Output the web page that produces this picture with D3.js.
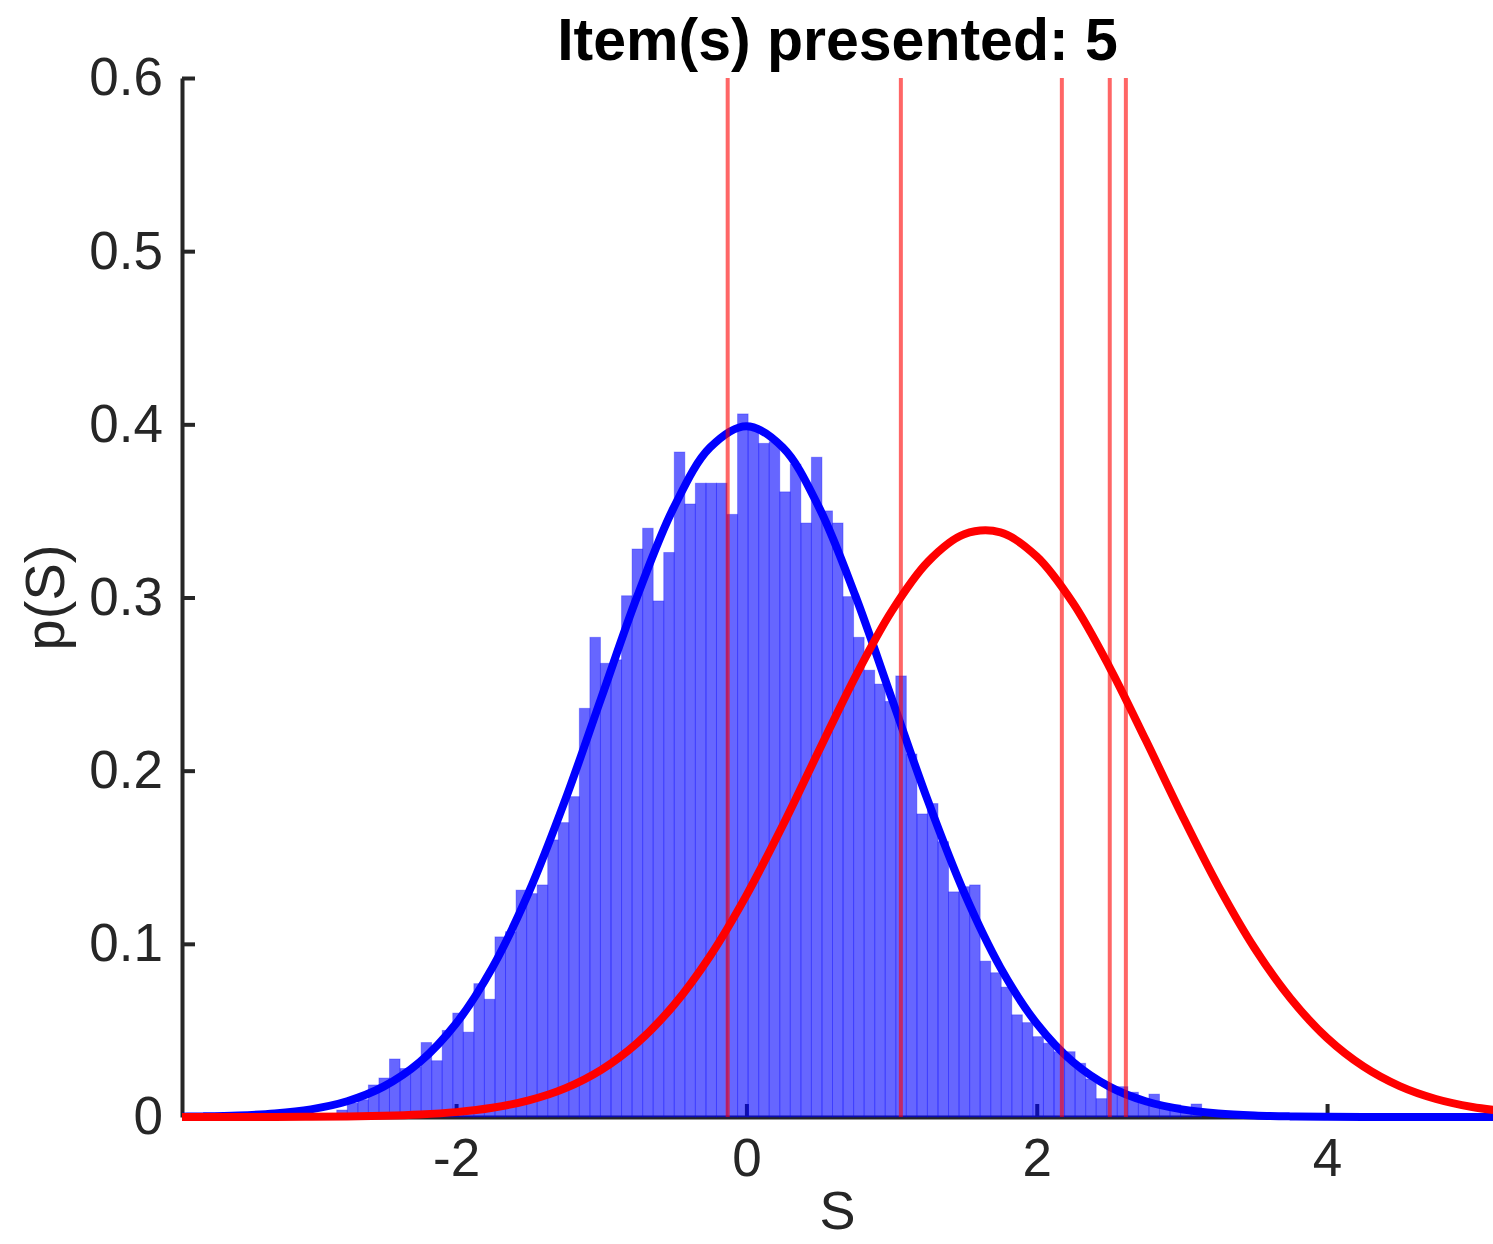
<!DOCTYPE html>
<html>
<head>
<meta charset="utf-8">
<script src="https://cdn.jsdelivr.net/npm/d3@7"></script>
<style>
  body { margin: 0; background: #fff; }
  svg { display: block; }
</style>
</head>
<body>
<div id="chart"></div>
<script>
// chart text
const titleText = "Item(s) presented: 5";
const xLabelText = "S";
const yLabelText = "p(S)";

// axis ticks
const xTicks = [-2, 0, 2, 4];
const yTicks = [0, 0.1, 0.2, 0.3, 0.4, 0.5, 0.6];
const yTickLabels = ["0", "0.1", "0.2", "0.3", "0.4", "0.5", "0.6"];
const xDomain = [-3.888, 5.143];
const yDomain = [0, 0.6];

const binStart = -2.822;
const binWidth = 0.07266;
const histHeights = [
  0.004, 0.008, 0.010, 0.0185, 0.0225, 0.0335, 0.028, 0.029, 0.043, 0.0325,
  0.050, 0.060, 0.049, 0.077, 0.068, 0.104, 0.107, 0.131, 0.129, 0.134,
  0.160, 0.170, 0.185, 0.236, 0.277, 0.262, 0.264, 0.301, 0.328, 0.340,
  0.298, 0.326, 0.384, 0.354, 0.366, 0.366, 0.366, 0.348, 0.406, 0.399,
  0.389, 0.390, 0.361, 0.377, 0.343, 0.381, 0.350, 0.343, 0.3005, 0.277,
  0.258, 0.250, 0.240, 0.2547, 0.2096, 0.175, 0.181, 0.159, 0.130, 0.133,
  0.134, 0.090, 0.0833, 0.075, 0.059, 0.0545, 0.0464, 0.0426, 0.0377, 0.0377,
  0.031, 0.022, 0.0106, 0.0173, 0.0175, 0.0143, 0.008, 0.0132, 0.007, 0.007,
  0.003, 0.0075
];

// density curves sampled along S
const sGrid = [
  -4, -3.75, -3.5, -3.25, -3, -2.75, -2.5, -2.25, -2, -1.75,
  -1.5, -1.25, -1, -0.75, -0.5, -0.25, 0, 0.25, 0.5, 0.75,
  1, 1.25, 1.5, 1.75, 2, 2.25, 2.5, 2.75, 3, 3.25,
  3.5, 3.75, 4, 4.25, 4.5, 4.75, 5, 5.25
];
const noiseDensity = [
  0.00013, 0.00035, 0.00087, 0.00203, 0.00443, 0.00909, 0.01753, 0.03174, 0.05399, 0.08628,
  0.12952, 0.18265, 0.24197, 0.30114, 0.35207, 0.38667, 0.39894, 0.38667, 0.35207, 0.30114,
  0.24197, 0.18265, 0.12952, 0.08628, 0.05399, 0.03174, 0.01753, 0.00909, 0.00443, 0.00203,
  0.00087, 0.00035, 0.00013, 0.00005, 0.00002, 0.00001, 0, 0
];
const signalDensity = [
  0.0000035, 0.0000093, 0.000024, 0.00006, 0.000142, 0.00032, 0.00069, 0.00143, 0.00282, 0.00532,
  0.00959, 0.01653, 0.02724, 0.04291, 0.06462, 0.0930, 0.1280, 0.1683, 0.2116, 0.2542,
  0.2920, 0.3206, 0.3365, 0.3376, 0.3237, 0.2968, 0.2600, 0.2178, 0.1744, 0.1335,
  0.0976, 0.0683, 0.0456, 0.0292, 0.01782, 0.0104, 0.0058, 0.0031
];

// presented item strengths (vertical lines)
const itemValues = [-0.129, 1.064, 2.173, 2.503, 2.614];

// layout
const width = 1493, height = 1244;
const margin = {top: 78, right: 0, bottom: 127, left: 182};
const inkColor = "#262626";
const fontFamily = "'Liberation Sans', Arial, Helvetica, sans-serif";

const svg = d3.select("#chart").append("svg")
    .attr("width", width)
    .attr("height", height);

const xScale = d3.scaleLinear().domain(xDomain).range([margin.left, width - margin.right]);
const yScale = d3.scaleLinear().domain(yDomain).range([height - margin.bottom, margin.top]);

svg.append("defs").append("clipPath")
    .attr("id", "plotClip")
  .append("rect")
    .attr("x", margin.left)
    .attr("y", 0)
    .attr("width", width - margin.left - margin.right)
    .attr("height", height);

// axes go first, bars are drawn over them
const xAxis = svg.append("g")
    .attr("transform", `translate(0,${yScale(0)})`)
    .call(d3.axisBottom(xScale)
        .tickValues(xTicks)
        .tickSizeInner(-13)
        .tickSizeOuter(0)
        .tickPadding(21)
        .tickFormat(d => d));

const yAxis = svg.append("g")
    .attr("transform", `translate(${margin.left},0)`)
    .call(d3.axisLeft(yScale)
        .tickValues(yTicks)
        .tickSizeInner(-13)
        .tickSizeOuter(0)
        .tickPadding(19)
        .tickFormat((d, i) => yTickLabels[i]));

[xAxis, yAxis].forEach(ax => {
    ax.select(".domain").attr("stroke", inkColor).attr("stroke-width", 4);
    ax.selectAll(".tick line").attr("stroke", inkColor).attr("stroke-width", 4);
    ax.selectAll(".tick text")
        .attr("fill", inkColor)
        .style("font-family", fontFamily)
        .style("font-size", "53px");
});

const plot = svg.append("g").attr("clip-path", "url(#plotClip)");

// histogram bars
plot.selectAll(".bar")
    .data(histHeights)
    .enter().append("rect")
    .attr("class", "bar")
    .attr("x", (d, i) => xScale(binStart + i * binWidth))
    .attr("width", (d, i) => xScale(binStart + (i + 1) * binWidth) - xScale(binStart + i * binWidth))
    .attr("y", d => yScale(d))
    .attr("height", d => yScale(0) - yScale(d))
    .style("fill", "#0000ff")
    .style("fill-opacity", 0.6)
    .style("stroke", "#0000ff")
    .style("stroke-opacity", 0.3)
    .style("stroke-width", 1);

const densityLine = d3.line()
    .x((d, i) => xScale(sGrid[i]))
    .y(d => yScale(d))
    .curve(d3.curveCatmullRom.alpha(0.5));

// noise distribution
plot.append("path")
    .datum(noiseDensity)
    .attr("d", densityLine)
    .style("fill", "none")
    .style("stroke", "#0000ff")
    .style("stroke-width", 8);

// item lines
plot.selectAll(".item")
    .data(itemValues)
    .enter().append("line")
    .attr("class", "item")
    .attr("x1", d => xScale(d))
    .attr("x2", d => xScale(d))
    .attr("y1", yScale(yDomain[1]))
    .attr("y2", yScale(0))
    .style("stroke", "#ff0000")
    .style("stroke-opacity", 0.6)
    .style("stroke-width", 4);

// signal distribution
plot.append("path")
    .datum(signalDensity)
    .attr("d", densityLine)
    .style("fill", "none")
    .style("stroke", "#ff0000")
    .style("stroke-width", 8);

// labels
svg.append("text")
    .attr("x", (margin.left + width - margin.right) / 2)
    .attr("y", 60)
    .attr("text-anchor", "middle")
    .style("font-family", fontFamily)
    .style("font-weight", "bold")
    .style("font-size", "59px")
    .attr("fill", "#000")
    .text(titleText);

svg.append("text")
    .attr("x", (margin.left + width - margin.right) / 2)
    .attr("y", 1229)
    .attr("text-anchor", "middle")
    .style("font-family", fontFamily)
    .style("font-size", "54px")
    .attr("fill", inkColor)
    .text(xLabelText);

svg.append("text")
    .attr("transform", `translate(64,${(yScale(0) + yScale(0.6)) / 2}) rotate(-90)`)
    .attr("text-anchor", "middle")
    .style("font-family", fontFamily)
    .style("font-size", "56px")
    .attr("fill", inkColor)
    .text(yLabelText);
</script>
</body>
</html>
